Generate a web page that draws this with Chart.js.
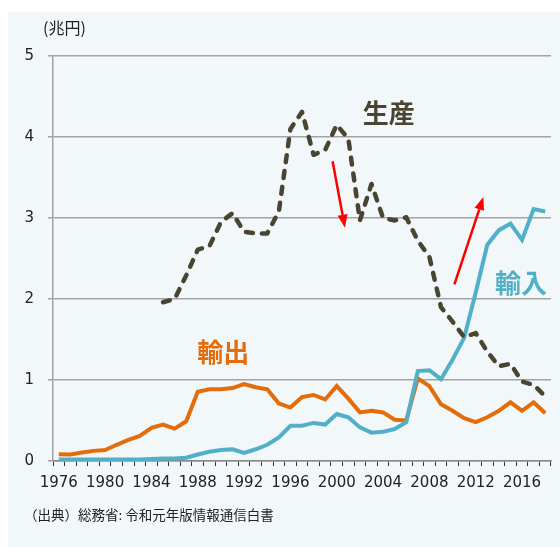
<!DOCTYPE html>
<html>
<head>
<meta charset="utf-8">
<script src="https://cdn.jsdelivr.net/npm/chart.js@4/dist/chart.umd.min.js"></script>
<style>
  html, body { margin: 0; padding: 0; background: #fff; }
  #wrap { position: relative; width: 560px; height: 547px; }
</style>
</head>
<body>
<div id="wrap"><canvas id="chart" width="560" height="547"></canvas></div>
<script>
const years = [
  1976, 1977, 1978, 1979, 1980, 1981, 1982, 1983, 1984, 1985,
  1986, 1987, 1988, 1989, 1990, 1991, 1992, 1993, 1994, 1995,
  1996, 1997, 1998, 1999, 2000, 2001, 2002, 2003, 2004, 2005,
  2006, 2007, 2008, 2009, 2010, 2011, 2012, 2013, 2014, 2015,
  2016, 2017, 2018,
];

// 生産 (兆円) - no data before 1985
const production = [
  null, null, null, null, null, null, null, null, null, 1.96,
  2.0, 2.29, 2.61, 2.65, 2.95, 3.06, 2.83, 2.81, 2.81, 3.08,
  4.1, 4.31, 3.78, 3.84, 4.15, 3.98, 2.97, 3.42, 3.0, 2.97,
  3.01, 2.72, 2.52, 1.9, 1.72, 1.53, 1.58, 1.35, 1.17, 1.2,
  0.98, 0.94, 0.8,
];

// 輸入
const imports = [
  0.02, 0.02, 0.02, 0.02, 0.02, 0.02, 0.02, 0.02, 0.025, 0.03,
  0.03, 0.04, 0.08, 0.115, 0.135, 0.145, 0.1, 0.145, 0.2, 0.29,
  0.435, 0.435, 0.47, 0.45, 0.58, 0.54, 0.415, 0.35, 0.36, 0.395,
  0.48, 1.11, 1.12, 1.01, 1.25, 1.52, 2.08, 2.67, 2.85, 2.93,
  2.73, 3.11, 3.08,
];

// 輸出
const exports = [
  0.083, 0.08, 0.105, 0.125, 0.135, 0.2, 0.26, 0.31, 0.41, 0.45,
  0.4, 0.49, 0.855, 0.885, 0.885, 0.9, 0.95, 0.91, 0.885, 0.71,
  0.66, 0.79, 0.815, 0.76, 0.925, 0.77, 0.6, 0.62, 0.6, 0.51,
  0.5, 1.02, 0.925, 0.7, 0.62, 0.53, 0.48, 0.54, 0.62, 0.725,
  0.62, 0.725, 0.59,
];

const yTicks = [0, 1, 2, 3, 4, 5];

const colors = {
  production: '#4a4530',
  imports: '#52afc8',
  exports: '#e46c0a',
  arrow: '#ff0000',
};

// series names placed next to the lines (year index, value)
const seriesLabels = [
  { text: '生産', x: 28.5, y: 4.3, color: colors.production },
  { text: '輸入', x: 39.9, y: 2.2, color: colors.imports },
  { text: '輸出', x: 14.2, y: 1.35, color: colors.exports },
];

// trend arrows (year index, value)
const trendArrows = [
  { from: [23.64, 3.7], to: [24.71, 2.88] },
  { from: [34.16, 2.18], to: [36.66, 3.26] },
];

const panelPlugin = {
  id: 'panel',
  beforeDraw(chart) {
    const { ctx, width, height } = chart;
    ctx.save();
    ctx.fillStyle = '#ffffff';
    ctx.fillRect(0, 0, width, height);
    ctx.fillStyle = '#f2f7fa';
    ctx.fillRect(8, 12, width - 8, height - 12);
    ctx.restore();
  },
};

const notesPlugin = {
  id: 'notes',
  afterDraw(chart) {
    const { ctx } = chart;
    const x = chart.scales.x;
    const y = chart.scales.y;
    ctx.save();

    // unit
    ctx.fillStyle = '#222';
    ctx.font = '16px "Noto Sans CJK JP"';
    ctx.textBaseline = 'middle';
    ctx.textAlign = 'left';
    ctx.fillText('(兆円)', 43, 28);

    // source
    ctx.font = '13.5px "Noto Sans CJK JP"';
    ctx.fillText('（出典）総務省: 令和元年版情報通信白書', 24, 515);

    // series names
    ctx.font = 'bold 26px "Noto Sans CJK JP"';
    ctx.textAlign = 'center';
    seriesLabels.forEach((item) => {
      ctx.fillStyle = item.color;
      ctx.fillText(item.text, x.getPixelForValue(item.x), y.getPixelForValue(item.y));
    });

    // arrows
    ctx.strokeStyle = colors.arrow;
    ctx.fillStyle = colors.arrow;
    ctx.lineWidth = 2.5;
    trendArrows.forEach((a) => {
      const x1 = x.getPixelForValue(a.from[0]);
      const y1 = y.getPixelForValue(a.from[1]);
      const x2 = x.getPixelForValue(a.to[0]);
      const y2 = y.getPixelForValue(a.to[1]);
      const ang = Math.atan2(y2 - y1, x2 - x1);
      const head = 13;
      const half = 5;
      const bx = x2 - head * Math.cos(ang);
      const by = y2 - head * Math.sin(ang);
      ctx.beginPath();
      ctx.moveTo(x1, y1);
      ctx.lineTo(bx, by);
      ctx.stroke();
      ctx.beginPath();
      ctx.moveTo(x2, y2);
      ctx.lineTo(bx + half * Math.sin(ang), by - half * Math.cos(ang));
      ctx.lineTo(bx - half * Math.sin(ang), by + half * Math.cos(ang));
      ctx.closePath();
      ctx.fill();
    });

    ctx.restore();
  },
};

new Chart(document.getElementById('chart'), {
  type: 'line',
  data: {
    labels: years,
    datasets: [
      {
        label: '生産',
        data: production,
        borderColor: colors.production,
        borderWidth: 4.5,
        borderDash: [7, 9],
        borderCapStyle: 'round',
        borderJoinStyle: 'round',
        pointRadius: 0,
        tension: 0,
        order: 0,
      },
      {
        label: '輸入',
        data: imports,
        borderColor: colors.imports,
        borderWidth: 4,
        pointRadius: 0,
        tension: 0,
        order: 1,
      },
      {
        label: '輸出',
        data: exports,
        borderColor: colors.exports,
        borderWidth: 4,
        pointRadius: 0,
        tension: 0,
        order: 2,
      },
    ],
  },
  options: {
    responsive: false,
    animation: false,
    events: [],
    layout: { padding: { top: 56, right: 9, left: 0, bottom: 0 } },
    plugins: {
      legend: { display: false },
      tooltip: { enabled: false },
    },
    scales: {
      x: {
        type: 'category',
        offset: true,
        afterFit(scale) { scale.height = 86; },
        grid: {
          offset: true,
          drawOnChartArea: false,
          drawTicks: true,
          tickLength: 5,
          color: '#333',
        },
        border: { color: '#888', width: 1.5 },
        ticks: {
          autoSkip: false,
          maxRotation: 0,
          padding: 8,
          color: '#222',
          font: { family: '"DejaVu Sans"', size: 15 },
          callback(value, index) {
            const yr = years[index];
            return (yr - years[0]) % 4 === 0 ? String(yr) : '';
          },
        },
      },
      y: {
        min: 0,
        max: 5,
        afterFit(scale) { scale.width = 53; },
        afterBuildTicks(scale) { scale.ticks = yTicks.map((v) => ({ value: v })); },
        grid: {
          color: '#a3a3a3',
          lineWidth: 1.5,
          tickLength: 5,
        },
        border: { color: '#a3a3a3', width: 1.5 },
        ticks: {
          padding: 14,
          color: '#222',
          font: { family: '"DejaVu Sans"', size: 15 },
        },
      },
    },
  },
  plugins: [panelPlugin, notesPlugin],
});
</script>
</body>
</html>
